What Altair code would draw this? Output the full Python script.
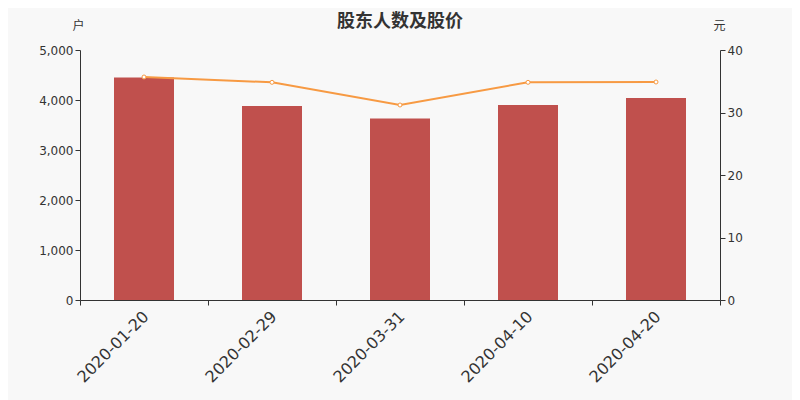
import altair as alt
import pandas as pd

dates = ["2020-01-20", "2020-02-29", "2020-03-31", "2020-04-10", "2020-04-20"]
holders = [4450, 3880, 3630, 3900, 4040]
prices = [35.68, 34.83, 31.2, 34.83, 34.88]

df = pd.DataFrame({"date": dates, "holders": holders, "price": prices})

x = alt.X("date:N", sort=dates, title=None,
          scale=alt.Scale(paddingInner=0, paddingOuter=0),
          axis=alt.Axis(labelAngle=-45, labelFontSize=16, labelColor="#333",
                        labelFont="DejaVu Sans", domainColor="#333", tickColor="#333",
                        tickBand="extent", tickSize=5, labelPadding=3, labelOffset=-4))

bars = alt.Chart(df).mark_bar(color="#c0504d", size=60).encode(
    x=x,
    y=alt.Y("holders:Q", scale=alt.Scale(domain=[0, 5000]),
            axis=alt.Axis(values=[0, 1000, 2000, 3000, 4000, 5000], format=",.0f",
                          title="户", titleAngle=0, titleX=-2, titleY=-18,
                          titleFont="Noto Sans CJK SC", titleFontSize=12,
                          titleFontWeight="normal", titleColor="#333",
                          labelColor="#333", labelFont="DejaVu Sans", labelFontSize=12,
                          domainColor="#333", tickColor="#333", grid=False, tickSize=5))
)

line = alt.Chart(df).mark_line(
    color="#f79a43", strokeWidth=2,
    point=alt.OverlayMarkDef(filled=True, fill="white", stroke="#f79a43",
                             strokeWidth=1, size=16, opacity=1)
).encode(
    x=x,
    y=alt.Y("price:Q", scale=alt.Scale(domain=[0, 40]),
            axis=alt.Axis(orient="right", values=[0, 10, 20, 30, 40],
                          title="元", titleAngle=0, titleX=-1, titleY=-18,
                          titleFont="Noto Sans CJK SC", titleFontSize=12,
                          titleFontWeight="normal", titleColor="#333",
                          labelColor="#333", labelFont="DejaVu Sans", labelFontSize=12,
                          domainColor="#333", tickColor="#333", grid=False, tickSize=5))
)

chart = alt.layer(bars, line).resolve_scale(y="independent").properties(
    width=640, height=250,
    autosize=alt.AutoSizeParams(type="none"),
    padding={"left": 72, "top": 42, "right": 72, "bottom": 100},
    background="#f8f8f8",
    title=alt.TitleParams("股东人数及股价", font="Noto Sans CJK SC", fontSize=18,
                          fontWeight="bold", color="#333", anchor="middle", offset=-12),
).configure_view(stroke=None)

chart.save("out.html", embed_options={"renderer": "svg", "actions": False})
